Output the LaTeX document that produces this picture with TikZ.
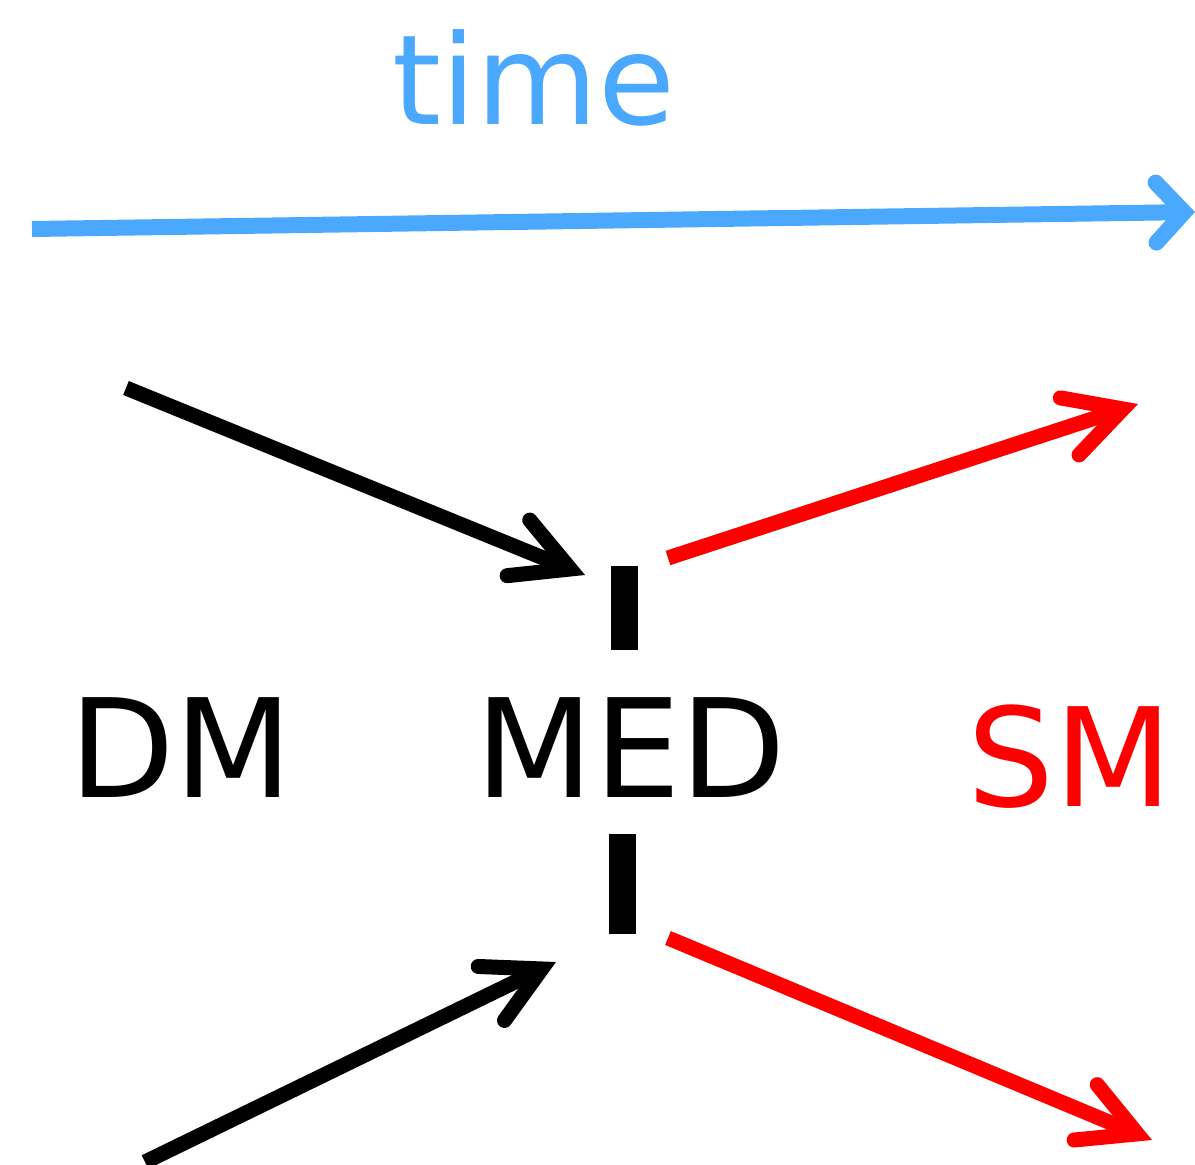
\documentclass[tikz,border=0pt]{standalone}
\usepackage{fontspec}
\setmainfont{DejaVu Sans}
\usetikzlibrary{arrows.meta}
\definecolor{timeblue}{HTML}{4AA8FF}
\definecolor{smred}{HTML}{FF0000}
\tikzset{
  barb/.style={-{Straight Barb[length=56pt,width=60pt,line cap=round,line join=miter]}},
  flow/.style={line width=15pt,barb},
  lbl/.style={inner sep=0pt,anchor=base,font=\fontsize{137}{140}\selectfont},
  vbar/.style={fill=black,draw=none}
}
\begin{document}
\begin{tikzpicture}[x=1pt,y=-1pt]
\useasboundingbox (0,0) rectangle (1195,1165);
% time axis
\coordinate (t0) at (32,229);
\coordinate (t1) at (1195,212);
\node[inner sep=0pt,anchor=base,text=timeblue,font=\fontsize{125}{130}\selectfont] (time) at (534,124) {time};
\draw[timeblue,line width=16pt,-{Straight Barb[length=28pt,width=60pt,line cap=round,line join=miter]}] (t0) -- (t1);
% labels
\node[lbl] (dm) at (181,797) {DM};
\node[lbl] (med) at (631,797) {MED};
\node[lbl,text=smred] (sm) at (1070,806) {SM};
% mediator bars
\fill[vbar] (611,566) rectangle (638,650);
\fill[vbar] (609,834) rectangle (636,934);
% arrows
\coordinate (a0) at (126,388);
\coordinate (a1) at (585,575);
\coordinate (b0) at (145,1162);
\coordinate (b1) at (556,962);
\coordinate (c0) at (668,558);
\coordinate (c1) at (1138,404);
\coordinate (d0) at (668,938);
\coordinate (d1) at (1152,1140);
\draw[flow] (a0) -- (a1);
\draw[flow] (b0) -- (b1);
\draw[flow,smred] (c0) -- (c1);
\draw[flow,smred] (d0) -- (d1);
\end{tikzpicture}
\end{document}
